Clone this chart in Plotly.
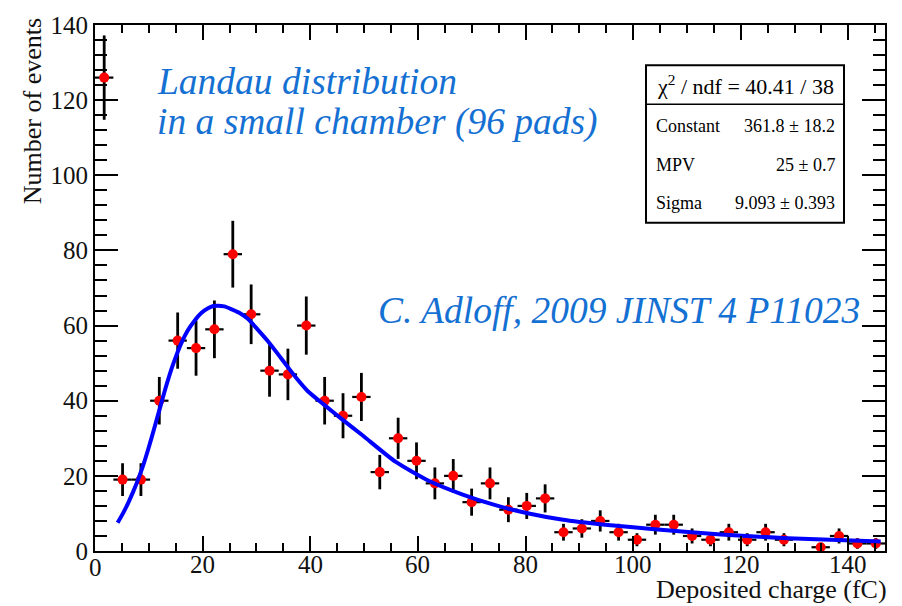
import numpy as np
import plotly.graph_objects as go

# ---------------- data ----------------
bin_width = 3.414          # histogram bin width (fC)
n_bins = 43
counts = [126, 19, 19, 40, 56, 54, 59, 79, 63, 48,
          47, 60, 40, 36, 41, 21, 30, 24, 18, 20,
          13, 18, 11, 12, 14, 5, 6, 8, 5, 3,
          7, 7, 4, 3, 5, 3, 5, 3, 0, 1,
          4, 2, 2]

# fitted Landau curve
fit_x = [4.2, 5.2, 6.2, 7.1, 8.0, 9.0, 10.0, 11.0, 12.0, 13.1, 14.2, 15.1,
         16.0, 17.2, 18.5, 19.8, 21.0, 22.0, 22.8, 24.0, 25.3, 26.8, 28.4,
         30.2, 32.1, 34.0, 35.8, 37.6, 39.5, 42.6, 45.7, 49.7, 55.9, 62.0,
         68.2, 74.4, 80.6, 86.7, 94.8, 104.0, 116.3, 128.7, 146.0]
fit_y = [7.5, 10.0, 12.9, 15.8, 19.0, 23.0, 27.6, 32.6, 37.7, 43.3, 48.4, 52.0,
         55.2, 58.6, 61.3, 63.4, 64.6, 65.2, 65.3, 65.1, 64.4, 63.4, 61.8,
         59.0, 55.9, 52.4, 49.0, 45.7, 42.6, 38.9, 35.3, 30.8, 23.7, 18.7,
         15.1, 12.2, 10.0, 8.4, 7.0, 5.8, 4.4, 3.4, 2.5]

x_ticks = [0, 20, 40, 60, 80, 100, 120, 140]
y_ticks = [0, 20, 40, 60, 80, 100, 120, 140]

stat_header = "χ<sup>2</sup> / ndf = 40.41 / 38"
stat_names = ["Constant", "MPV", "Sigma"]
stat_values = ["361.8 ± 18.2", "25 ± 0.7", "9.093 ± 0.393"]

# ---------------- figure ----------------
FONT = "Liberation Serif"
BLUE_TXT = "#1470d2"

centers = [(i + 0.5) * bin_width for i in range(n_bins)]
px_, py_, ey_ = [], [], []
for c, n in zip(centers, counts):
    if n > 0:
        px_.append(c)
        py_.append(n)
        ey_.append(np.sqrt(n))

fig = go.Figure()
fig.add_trace(go.Scatter(
    x=px_, y=py_, mode="markers",
    marker=dict(color="#ff0000", size=10, line=dict(width=0)),
    error_y=dict(type="data", array=ey_, visible=True, color="black",
                 thickness=2.8, width=0),
    error_x=dict(type="constant", value=bin_width / 2, visible=True,
                 color="black", thickness=2.2, width=0),
    showlegend=False, hoverinfo="x+y"))
fig.add_trace(go.Scatter(
    x=fit_x, y=fit_y, mode="lines",
    line=dict(color="#0000ff", width=4, shape="spline", smoothing=0.6),
    showlegend=False))

L, R, T, B = 95, 17, 14, 55
W, H = 902, 606
pw, ph = W - L - R, H - T - B


def pxx(x):
    return (x - L) / pw


def pyy(y):
    return (T + ph - y) / ph


fig.update_layout(
    width=W, height=H,
    margin=dict(l=L, r=R, t=T, b=B, pad=0),
    paper_bgcolor="white", plot_bgcolor="white",
    font=dict(family=FONT, color="black"),
    xaxis=dict(range=[0, n_bins * bin_width], tickvals=x_ticks,
               showticklabels=False,
               ticks="inside", ticklen=15, tickwidth=2, tickcolor="black",
               showline=True, linecolor="black", linewidth=2, mirror="ticks",
               showgrid=False, zeroline=False,
               minor=dict(dtick=5, ticks="inside", ticklen=8, tickwidth=2,
                          tickcolor="black", showgrid=False)),
    yaxis=dict(range=[0, 140], tickvals=y_ticks,
               ticks="inside", ticklen=23, tickwidth=2, tickcolor="black",
               showline=True, linecolor="black", linewidth=2, mirror="ticks",
               showgrid=False, zeroline=False,
               tickfont=dict(size=25, family=FONT, color="#111"),
               minor=dict(dtick=4, ticks="inside", ticklen=12, tickwidth=2,
                          tickcolor="black", showgrid=False)),
)

# x tick labels placed at the axis' own data positions
for v in x_ticks:
    fig.add_annotation(xref="x", yref="paper", x=v,
                       y=pyy(568 if v == 0 else 565),
                       text=str(v), showarrow=False,
                       xanchor="center", yanchor="middle",
                       font=dict(size=25, family=FONT, color="#111"))

# stats box
bx0, bx1, by0, by1, bdiv = 646, 844, 55, 216, 95
fig.add_shape(type="rect", xref="paper", yref="paper",
              x0=pxx(bx0), x1=pxx(bx1), y0=pyy(by1), y1=pyy(by0),
              line=dict(color="black", width=2), fillcolor="white")
fig.add_shape(type="line", xref="paper", yref="paper",
              x0=pxx(bx0), x1=pxx(bx1), y0=pyy(bdiv), y1=pyy(bdiv),
              line=dict(color="black", width=1.5))
fig.add_annotation(xref="paper", yref="paper", x=pxx((bx0 + bx1) / 2),
                   y=pyy(75), text=stat_header, showarrow=False,
                   xanchor="center", yanchor="middle",
                   font=dict(size=22, family=FONT, color="black"))
for i, (nm, val) in enumerate(zip(stat_names, stat_values)):
    yy = [117, 157, 196][i]
    fig.add_annotation(xref="paper", yref="paper", x=pxx(654), y=pyy(yy),
                       text=nm, showarrow=False, xanchor="left",
                       yanchor="middle",
                       font=dict(size=18, family=FONT, color="black"))
    fig.add_annotation(xref="paper", yref="paper", x=pxx(837), y=pyy(yy),
                       text=val, showarrow=False, xanchor="right",
                       yanchor="middle",
                       font=dict(size=18, family=FONT, color="black"))

# blue italic texts
for txt, xx, yy in [("Landau distribution", 155, 72),
                    ("in a small chamber (96 pads)", 155, 113),
                    ("C. Adloff, 2009 JINST 4 P11023", 376, 305)]:
    fig.add_annotation(xref="paper", yref="paper", x=pxx(xx), y=pyy(yy),
                       text="<i>" + txt + "</i>", showarrow=False,
                       xanchor="left", yanchor="middle",
                       font=dict(size=37.5, family=FONT, color=BLUE_TXT))

# axis titles
fig.add_annotation(xref="paper", yref="paper", x=pxx(32), y=pyy(5),
                   text="Number of events", textangle=-90, showarrow=False,
                   xanchor="center", yanchor="top",
                   font=dict(size=26, family=FONT, color="#111"))
fig.add_annotation(xref="paper", yref="paper", x=pxx(889), y=pyy(590),
                   text="Deposited charge (fC)", showarrow=False,
                   xanchor="right", yanchor="middle",
                   font=dict(size=26, family=FONT, color="#111"))

fig.write_html("out.html")
